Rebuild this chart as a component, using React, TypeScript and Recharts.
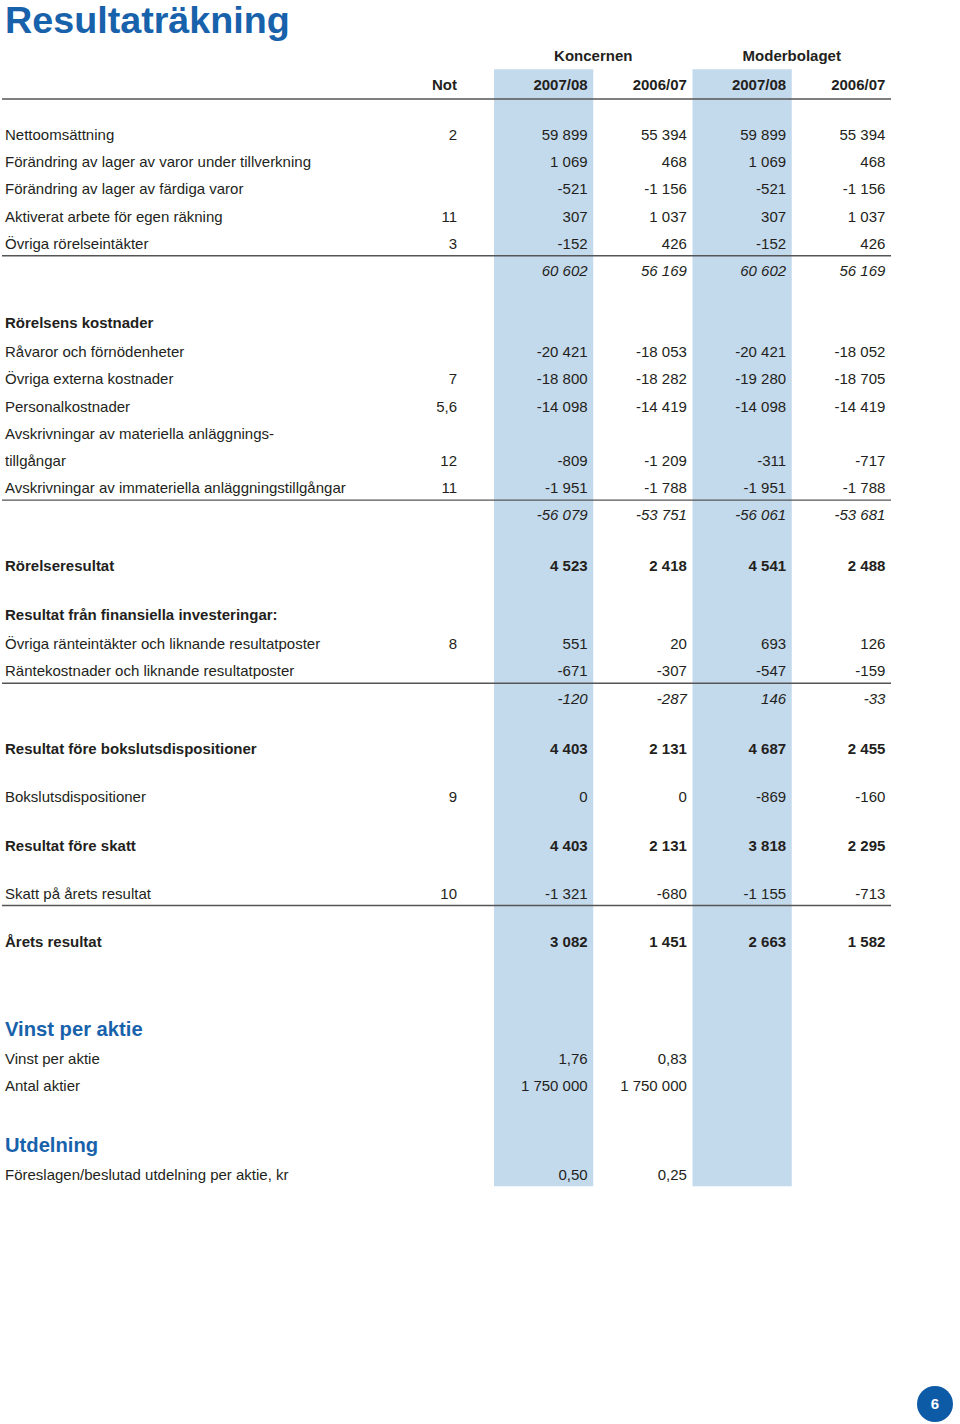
import React from "react";
import { ComposedChart, XAxis, YAxis, Scatter, ReferenceArea } from "recharts";

// ---------- data ----------
const titleText = "Resultaträkning";
const noteHeader = "Not";
const columnGroups = ["Koncernen", "Moderbolaget"];
const columnYears = ["2007/08", "2006/07", "2007/08", "2006/07"];
const highlightedColumns = [true, false, true, false];

type Kind = "item" | "subtotal" | "heading" | "result" | "total" | "section";

const rowLabels = [
  "Nettoomsättning",
  "Förändring av lager av varor under tillverkning",
  "Förändring av lager av färdiga varor",
  "Aktiverat arbete för egen räkning",
  "Övriga rörelseintäkter",
  "",
  "Rörelsens kostnader",
  "Råvaror och förnödenheter",
  "Övriga externa kostnader",
  "Personalkostnader",
  "Avskrivningar av materiella anläggnings-",
  "tillgångar",
  "Avskrivningar av immateriella anläggningstillgångar",
  "",
  "Rörelseresultat",
  "Resultat från finansiella investeringar:",
  "Övriga ränteintäkter och liknande resultatposter",
  "Räntekostnader och liknande resultatposter",
  "",
  "Resultat före bokslutsdispositioner",
  "Bokslutsdispositioner",
  "Resultat före skatt",
  "Skatt på årets resultat",
  "Årets resultat",
  "Vinst per aktie",
  "Vinst per aktie",
  "Antal aktier",
  "Utdelning",
  "Föreslagen/beslutad utdelning per aktie, kr",
];

const rowKinds: Kind[] = [
  "item", "item", "item", "item", "item", "subtotal",
  "heading", "item", "item", "item", "item", "item", "item", "subtotal",
  "result",
  "heading", "item", "item", "subtotal",
  "result", "item", "result", "item", "total",
  "section", "item", "item",
  "section", "item",
];

const rowNotes = [
  "2", "", "", "11", "3", "",
  "", "", "7", "5,6", "", "12", "11", "",
  "",
  "", "8", "", "",
  "", "9", "", "10", "",
  "", "", "",
  "", "",
];

const koncern0708: (number | null)[] = [
  59899, 1069, -521, 307, -152, 60602,
  null, -20421, -18800, -14098, null, -809, -1951, -56079,
  4523,
  null, 551, -671, -120,
  4403, 0, 4403, -1321, 3082,
  null, 1.76, 1750000,
  null, 0.5,
];
const koncern0607: (number | null)[] = [
  55394, 468, -1156, 1037, 426, 56169,
  null, -18053, -18282, -14419, null, -1209, -1788, -53751,
  2418,
  null, 20, -307, -287,
  2131, 0, 2131, -680, 1451,
  null, 0.83, 1750000,
  null, 0.25,
];
const moder0708: (number | null)[] = [
  59899, 1069, -521, 307, -152, 60602,
  null, -20421, -19280, -14098, null, -311, -1951, -56061,
  4541,
  null, 693, -547, 146,
  4687, -869, 3818, -1155, 2663,
  null, null, null,
  null, null,
];
const moder0607: (number | null)[] = [
  55394, 468, -1156, 1037, 426, 56169,
  null, -18052, -18705, -14419, null, -717, -1788, -53681,
  2488,
  null, 126, -159, -33,
  2455, -160, 2295, -713, 1582,
  null, null, null,
  null, null,
];

const valueColumns = [koncern0708, koncern0607, moder0708, moder0607];
const pageNumber = "6";

// ---------- style / layout ----------
const FONT = "'Liberation Sans', Arial, sans-serif";
const INK = "#231f20";
const BLUE = "#1762ab";
const BAND = "#c3d9ec";
const RULE = "#555555";
const FS = 15;

const W = 960;
const H = 1424;
const LABEL_X = 5;
const NOTE_RIGHT = 457;
const RULE_LEFT = 2;
const RULE_RIGHT = 891;
const TABLE_LEFT = 494;
const TITLE_Y = 33;
const GROUP_Y = 60.7;
const HEADER_Y = 89.5;
const HEADER_RULE_Y = 99;
const BAND_TOP = 69.3;
const FIRST_ROW_Y = 140;

function gap(prev: Kind, cur: Kind): number {
  if (cur === "section") return prev === "total" ? 89.4 : 61;
  if (prev === "section") return 27.6;
  if (prev === "heading") return 28.8;
  if (cur === "heading") return prev === "subtotal" ? 52.3 : 49.5;
  if (cur === "result" || cur === "total") return prev === "subtotal" ? 50.5 : 48.5;
  if (prev === "result") return 48;
  return 27.2;
}

const rowY: number[] = [];
rowKinds.forEach((k, i) => {
  rowY.push(i === 0 ? FIRST_ROW_Y : rowY[i - 1] + gap(rowKinds[i - 1], k));
});
const BAND_BOTTOM = rowY[rowY.length - 1] + 6.5;

function fmt(v: number): string {
  if (!Number.isInteger(v)) return v.toFixed(2).replace(".", ",");
  const s = Math.abs(v).toString().replace(/\B(?=(\d{3})+(?!\d))/g, " ");
  return (v < 0 ? "-" : "") + s;
}

type TickEntry =
  | { type: "title" }
  | { type: "noteHeader" }
  | { type: "rule" }
  | { type: "row"; i: number };

const tickMap = new Map<number, TickEntry>();
tickMap.set(TITLE_Y, { type: "title" });
tickMap.set(HEADER_Y, { type: "noteHeader" });
tickMap.set(HEADER_RULE_Y, { type: "rule" });
rowKinds.forEach((k, i) => {
  tickMap.set(rowY[i], { type: "row", i });
  if ((k === "subtotal" || k === "total") && i > 0) {
    tickMap.set(rowY[i - 1] + 7, { type: "rule" });
  }
});
const tickValues = Array.from(tickMap.keys()).sort((a, b) => a - b);

function LeftTick(props: any) {
  const { y, payload } = props;
  const entry = tickMap.get(payload?.value);
  if (!entry) return null;
  if (entry.type === "title") {
    return (
      <text x={LABEL_X} y={y} fill={BLUE} fontFamily={FONT} fontWeight={700} fontSize={37.7}>
        {titleText}
      </text>
    );
  }
  if (entry.type === "noteHeader") {
    return (
      <text x={NOTE_RIGHT} y={y} textAnchor="end" fill={INK} fontFamily={FONT} fontWeight={700} fontSize={FS}>
        {noteHeader}
      </text>
    );
  }
  if (entry.type === "rule") {
    return <line x1={RULE_LEFT} x2={RULE_RIGHT} y1={y} y2={y} stroke={RULE} strokeWidth={1.4} />;
  }
  const i = entry.i;
  const kind = rowKinds[i];
  const bold = kind === "heading" || kind === "result" || kind === "total" || kind === "section";
  return (
    <g>
      <text
        x={LABEL_X}
        y={y}
        fill={kind === "section" ? BLUE : INK}
        fontFamily={FONT}
        fontWeight={bold ? 700 : 400}
        fontSize={kind === "section" ? 20.2 : FS}
      >
        {rowLabels[i]}
      </text>
      {rowNotes[i] ? (
        <text x={NOTE_RIGHT} y={y} textAnchor="end" fill={INK} fontFamily={FONT} fontSize={FS}>
          {rowNotes[i]}
        </text>
      ) : null}
    </g>
  );
}

function CellText(props: any) {
  const { cx, cy, payload } = props;
  if (cx == null || cy == null) return null;
  const kind: string = payload.kind;
  const bold = kind === "result" || kind === "total" || kind === "header";
  return (
    <text
      x={cx + 44}
      y={cy}
      textAnchor="end"
      fill={INK}
      fontFamily={FONT}
      fontWeight={bold ? 700 : 400}
      fontStyle={kind === "subtotal" ? "italic" : "normal"}
      fontSize={FS}
    >
      {payload.text}
    </text>
  );
}

function GroupText(props: any) {
  const { cx, cy, payload } = props;
  if (cx == null || cy == null) return null;
  return (
    <text x={cx} y={cy} textAnchor="middle" fill={INK} fontFamily={FONT} fontWeight={700} fontSize={FS}>
      {payload.text}
    </text>
  );
}

const headerData = columnYears.map((t, c) => ({ x: c, y: HEADER_Y, text: t, kind: "header" }));
const groupData = columnGroups.map((g, gi) => ({ x: gi * 2 + 0.5, y: GROUP_Y, text: g }));
const cellData = valueColumns.map((col, c) =>
  col
    .map((v, i) => (v == null ? null : { x: c, y: rowY[i], text: fmt(v), kind: rowKinds[i] }))
    .filter((d) => d !== null) as { x: number; y: number; text: string; kind: string }[]
);

export default function App() {
  return (
    <div style={{ position: "absolute", left: 0, top: 0, width: W, height: H, background: "#fff" }}>
      <ComposedChart
        width={W}
        height={H}
        margin={{ top: 0, right: W - RULE_RIGHT, bottom: 0, left: 0 }}
      >
        <XAxis type="number" dataKey="x" domain={[-0.5, 3.5]} hide />
        <YAxis
          type="number"
          dataKey="y"
          domain={[0, H]}
          reversed
          width={TABLE_LEFT}
          ticks={tickValues}
          interval={0}
          axisLine={false}
          tickLine={false}
          tick={<LeftTick />}
        />
        {highlightedColumns.map((h, c) =>
          h ? (
            <ReferenceArea
              key={"band" + c}
              x1={c - 0.5}
              x2={c + 0.5}
              y1={BAND_TOP}
              y2={BAND_BOTTOM}
              fill={BAND}
              fillOpacity={1}
              stroke="none"
            />
          ) : null
        )}
        <Scatter name="groups" data={groupData} shape={<GroupText />} isAnimationActive={false} />
        <Scatter name="years" data={headerData} shape={<CellText />} isAnimationActive={false} />
        {cellData.map((d, c) => (
          <Scatter key={"col" + c} name={"col" + c} data={d} shape={<CellText />} isAnimationActive={false} />
        ))}
      </ComposedChart>
      <div
        style={{
          position: "absolute",
          left: 916.7,
          top: 1385.7,
          width: 36.6,
          height: 36.6,
          borderRadius: "50%",
          background: "#0d5aa7",
          color: "#fff",
          fontFamily: FONT,
          fontWeight: 700,
          fontSize: 15,
          lineHeight: "36.6px",
          textAlign: "center",
        }}
      >
        {pageNumber}
      </div>
    </div>
  );
}
